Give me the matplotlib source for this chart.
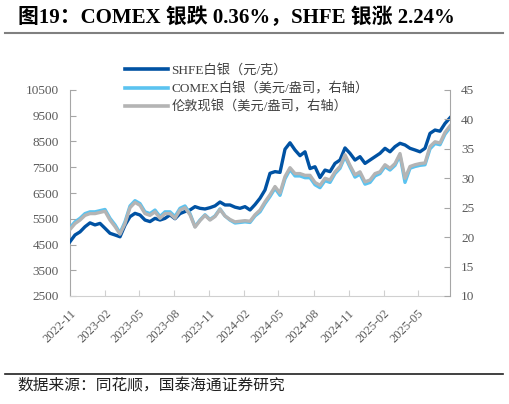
import matplotlib
matplotlib.use("Agg")
import matplotlib.pyplot as plt
import matplotlib.dates as mdates
from matplotlib.lines import Line2D
import pandas as pd

plt.rcParams["font.family"] = ["Liberation Serif", "Noto Sans CJK SC", "DejaVu Sans"]

# 观测日期（约每 13 天一个点）
dates = pd.date_range("2022-11-01", "2025-07-25", periods=77)

# SHFE 白银（元/克，左轴）
shfe = [4610, 4870, 4990, 5190, 5340, 5260, 5320, 5130, 4935, 4870,
        4800, 5250, 5580, 5710, 5645, 5450, 5390, 5515, 5450, 5515,
        5650, 5500, 5700, 5780, 5840, 5970, 5905, 5880, 5930, 6000,
        6150, 6035, 6035, 5950, 5905, 5970, 5840, 6050, 6295, 6617,
        7265, 7330, 7300, 8200, 8450, 8170, 7950, 8100, 7450, 7520,
        7100, 7390, 7330, 7650, 7780, 8250, 8040, 7780, 7910, 7650,
        7780, 7910, 8040, 8235, 8100, 8300, 8430, 8365, 8235, 8170,
        8100, 8235, 8815, 8945, 8900, 9200, 9420]

# COMEX 白银（美元/盎司，右轴）
comex = [21.6, 22.6, 23.2, 24.0, 24.3, 24.3, 24.5, 24.7, 23.2, 22.1,
         20.7, 22.6, 25.3, 26.2, 25.7, 24.3, 24.0, 24.6, 23.5, 24.3,
         24.3, 23.5, 24.9, 25.3, 24.0, 21.8, 22.9, 23.8, 23.0, 23.6,
         24.8, 23.6, 22.9, 22.4, 22.5, 22.6, 22.5, 23.6, 24.3, 25.7,
         26.9, 28.3, 27.1, 29.9, 31.5, 30.4, 30.4, 30.1, 30.1, 28.9,
         28.4, 29.6, 29.3, 30.8, 31.7, 33.7, 31.9, 30.2, 30.7, 29.0,
         29.3, 30.4, 30.8, 32.0, 31.4, 32.2, 33.9, 29.3, 31.7, 32.0,
         32.2, 32.3, 35.0, 35.9, 35.7, 37.5, 38.6]

# 伦敦现货银（美元/盎司，右轴）
london = [21.3, 22.3, 22.9, 23.7, 24.0, 24.0, 24.2, 24.4, 22.9, 21.8,
          20.5, 22.3, 25.0, 25.9, 25.4, 24.0, 23.7, 24.3, 23.2, 24.0,
          24.0, 23.2, 24.6, 25.0, 23.8, 21.7, 22.8, 23.7, 22.9, 23.5,
          24.7, 23.6, 23.0, 22.6, 22.7, 22.8, 22.7, 23.8, 24.6, 26.0,
          27.2, 28.6, 27.5, 30.3, 31.8, 30.8, 30.8, 30.5, 30.5, 29.3,
          28.8, 30.0, 29.7, 31.1, 32.0, 34.0, 32.2, 30.6, 31.1, 29.4,
          29.7, 30.8, 31.1, 32.3, 31.7, 32.5, 34.2, 30.0, 32.0, 32.3,
          32.5, 32.6, 35.4, 36.2, 36.0, 37.8, 38.9]

labels = ["SHFE白银（元/克）", "COMEX白银（美元/盎司，右轴）", "伦敦现银（美元/盎司，右轴）"]
colors = ["#0052A3", "#5BC3F0", "#B4B4B4"]

W, H = 509, 404
fig = plt.figure(figsize=(W / 100, H / 100), dpi=100)
ax = fig.add_axes([70 / W, 1 - 296 / H, 380 / W, 206 / H])
ax2 = ax.twinx()

ax.plot(dates, shfe, color=colors[0], lw=2.4, zorder=3)
ax2.plot(dates, comex, color=colors[1], lw=2.4, zorder=3)
ax2.plot(dates, london, color=colors[2], lw=2.4, zorder=4)

ax.set_ylim(2500, 10500)
ax.set_yticks(range(2500, 10501, 1000))
ax2.set_ylim(10, 45)
ax2.set_yticks(range(10, 46, 5))
ax.set_xlim(dates[0], dates[-1])
ax.xaxis.set_major_locator(mdates.MonthLocator(bymonth=[2, 5, 8, 11]))
ax.xaxis.set_major_formatter(mdates.DateFormatter("%Y-%m"))

tick_color = "#595959"
for a in (ax, ax2):
    for s in a.spines.values():
        s.set_visible(False)
    a.tick_params(axis="y", direction="in", length=4, width=0.8, color="#A6A6A6",
                  labelsize=9.5, labelcolor=tick_color, pad=8)
ax.spines["left"].set_visible(True)
ax.spines["left"].set_color("#A6A6A6")
ax.spines["bottom"].set_visible(True)
ax.spines["bottom"].set_color("#D0D0D0")
ax2.spines["right"].set_visible(True)
ax2.spines["right"].set_color("#A6A6A6")
ax.tick_params(axis="x", direction="in", length=4, width=0.8, color="#D0D0D0",
               labelsize=9, labelcolor=tick_color, pad=8)
for lab in ax.get_xticklabels():
    lab.set_rotation(45)
    lab.set_ha("right")
    lab.set_rotation_mode("anchor")

handles = [Line2D([], [], color=c, lw=2.6) for c in colors]
fig.legend(handles, labels, loc="upper left", bbox_to_anchor=(120 / W, 1 - 59 / H),
           frameon=False, fontsize=9.5, handlelength=3.2, handletextpad=0.3,
           labelspacing=0.4, borderaxespad=0, labelcolor="#404040")

fig.text(18 / W, 1 - 18 / H, "图19：COMEX 银跌 0.36%，SHFE 银涨 2.24%",
         fontsize=15, fontweight="bold", va="center", ha="left", color="black")
fig.add_artist(Line2D([5 / W, 503 / W], [1 - 33 / H, 1 - 33 / H], color="#808080", lw=1.5))
fig.add_artist(Line2D([5 / W, 503 / W], [1 - 374 / H, 1 - 374 / H], color="#202020", lw=1.2))
fig.text(17 / W, 1 - 387 / H, "数据来源：同花顺，国泰海通证券研究",
         fontsize=11.3, va="center", ha="left", color="#202020")

fig.savefig("out.png", dpi=100)
